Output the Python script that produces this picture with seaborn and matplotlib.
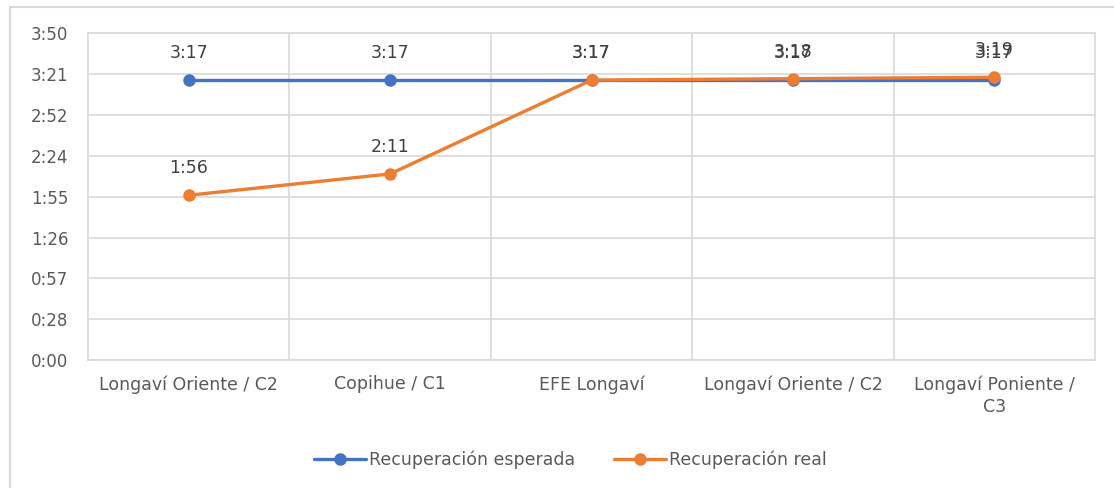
import matplotlib
matplotlib.use("Agg")
import matplotlib.pyplot as plt
from matplotlib.lines import Line2D
import pandas as pd
import seaborn as sns

# data (seconds)
estaciones = ["Longaví Oriente / C2", "Copihue / C1", "EFE Longaví",
              "Longaví Oriente / C2", "Longaví Poniente /\nC3"]
esperada = [197, 197, 197, 197, 197]
real = [116, 131, 197, 198, 199]
y_ticks = [0, 28.75, 57.5, 86.25, 115, 143.75, 172.5, 201.25, 230]
y_tick_labels = ["0:00", "0:28", "0:57", "1:26", "1:55", "2:24", "2:52", "3:21", "3:50"]


def mmss(s):
    s = int(round(s))
    return f"{s // 60}:{s % 60:02d}"


df = pd.DataFrame({
    "pos": list(range(len(estaciones))) * 2,
    "valor": esperada + real,
    "serie": ["Recuperación esperada"] * len(esperada) + ["Recuperación real"] * len(real),
})

sns.set_theme(style="white")
plt.rcParams["font.family"] = ["DejaVu Sans"]
text_col = "#595959"
grid_col = "#d9d9d9"
colores = {"Recuperación esperada": "#4472C4", "Recuperación real": "#ED7D31"}

fig = plt.figure(figsize=(11.14, 4.88), dpi=100)
ax = fig.add_axes([0.079, 0.262, 0.904, 0.67])

sns.lineplot(data=df, x="pos", y="valor", hue="serie", palette=colores,
             marker="o", markersize=9, markeredgewidth=0, linewidth=2.4,
             legend=False, ax=ax)

for serie, vals in [("Recuperación esperada", esperada), ("Recuperación real", real)]:
    for i, v in enumerate(vals):
        ax.annotate(mmss(v), (i, v), xytext=(0, 13), textcoords="offset points",
                    ha="center", va="bottom", fontsize=12.5, color="#404040")

ax.set_xlim(-0.5, len(estaciones) - 0.5)
ax.set_ylim(0, 230)
ax.set_yticks(y_ticks)
ax.set_yticklabels(y_tick_labels, fontsize=12, color=text_col)
ax.set_xticks(range(len(estaciones)))
ax.set_xticklabels(estaciones, fontsize=12.5, color=text_col, linespacing=1.3)
ax.tick_params(axis="y", length=0, pad=14)
ax.tick_params(axis="x", length=0, pad=11)
ax.set_xlabel("")
ax.set_ylabel("")

for yt in y_ticks:
    ax.axhline(yt, color=grid_col, linewidth=1.2, zorder=0)
for xb in [0.5, 1.5, 2.5, 3.5]:
    ax.axvline(xb, color=grid_col, linewidth=1.2, zorder=0)
for sp in ax.spines.values():
    sp.set_color(grid_col)
    sp.set_linewidth(1.2)

handles = [Line2D([0], [0], color=c, marker="o", markersize=9, linewidth=2.4,
                  markeredgewidth=0) for c in colores.values()]
leg = fig.legend(handles, list(colores.keys()), loc="center", bbox_to_anchor=(0.512, 0.057),
                 ncol=2, frameon=False, fontsize=12.5, handlelength=3.0,
                 handletextpad=0.2, columnspacing=2.2)
for t in leg.get_texts():
    t.set_color(text_col)

# outer chart border
fig.add_artist(Line2D([0.009, 0.009], [0, 0.986], color=grid_col, linewidth=1.5,
                      transform=fig.transFigure))
fig.add_artist(Line2D([0.009, 1.0], [0.986, 0.986], color=grid_col, linewidth=1.5,
                      transform=fig.transFigure))

fig.savefig("out.png", dpi=100)
